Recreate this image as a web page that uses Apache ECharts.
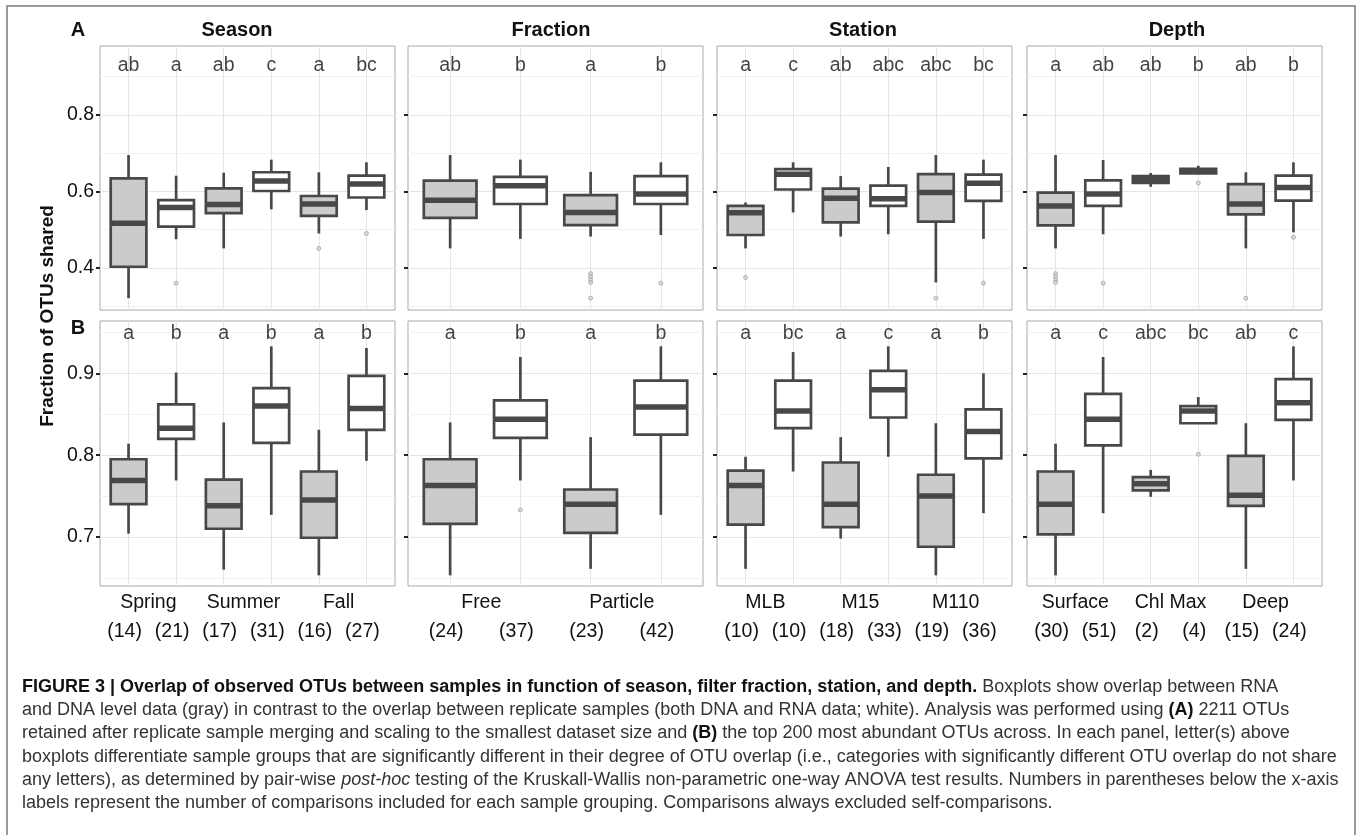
<!DOCTYPE html>
<html>
<head>
<meta charset="utf-8">
<title>Figure 3</title>
<script src="https://cdn.jsdelivr.net/npm/echarts@6/dist/echarts.min.js"></script>
<style>
  html, body { margin: 0; padding: 0; background: #fff; }
  #chart { width: 1357px; height: 835px; }
</style>
</head>
<body>
<div id="chart"></div>
<script>
// facet titles
var panelTitles = ['Season', 'Fraction', 'Station', 'Depth'];

// group names under the x axis (one per pair of boxes)
var seasonGroups = ['Spring', 'Summer', 'Fall'];
var fractionGroups = ['Free', 'Particle'];
var stationGroups = ['MLB', 'M15', 'M110'];
var depthGroups = ['Surface', 'Chl Max', 'Deep'];

// number of comparisons per box
var seasonCounts = [14, 21, 17, 31, 16, 27];
var fractionCounts = [24, 37, 23, 42];
var stationCounts = [10, 10, 18, 33, 19, 36];
var depthCounts = [30, 51, 2, 4, 15, 24];

// boxes alternate: RNA vs DNA (gray), replicates (white)
var boxKinds = ['RNA vs DNA', 'Replicates'];

// significance letters
var seasonLettersA = ['ab', 'a', 'ab', 'c', 'a', 'bc'];
var fractionLettersA = ['ab', 'b', 'a', 'b'];
var stationLettersA = ['a', 'c', 'ab', 'abc', 'abc', 'bc'];
var depthLettersA = ['a', 'ab', 'ab', 'b', 'ab', 'b'];
var seasonLettersB = ['a', 'b', 'a', 'b', 'a', 'b'];
var fractionLettersB = ['a', 'b', 'a', 'b'];
var stationLettersB = ['a', 'bc', 'a', 'c', 'a', 'b'];
var depthLettersB = ['a', 'c', 'abc', 'bc', 'ab', 'c'];

// box stats: [lower whisker, Q1, median, Q3, upper whisker]
var seasonBoxA = [
  [0.321, 0.403, 0.517, 0.634, 0.695],
  [0.475, 0.508, 0.558, 0.577, 0.641],
  [0.451, 0.543, 0.566, 0.608, 0.649],
  [0.553, 0.601, 0.627, 0.650, 0.683],
  [0.490, 0.536, 0.567, 0.588, 0.650],
  [0.551, 0.584, 0.619, 0.641, 0.676]
];
var fractionBoxA = [
  [0.451, 0.531, 0.577, 0.628, 0.695],
  [0.476, 0.567, 0.615, 0.638, 0.683],
  [0.482, 0.512, 0.545, 0.590, 0.651],
  [0.486, 0.567, 0.593, 0.640, 0.676]
];
var stationBoxA = [
  [0.451, 0.486, 0.544, 0.562, 0.571],
  [0.545, 0.605, 0.645, 0.658, 0.676],
  [0.482, 0.519, 0.582, 0.607, 0.640],
  [0.488, 0.562, 0.581, 0.615, 0.664],
  [0.362, 0.521, 0.597, 0.645, 0.695],
  [0.476, 0.575, 0.621, 0.644, 0.683]
];
var depthBoxA = [
  [0.451, 0.511, 0.562, 0.597, 0.695],
  [0.488, 0.562, 0.593, 0.629, 0.682],
  [0.612, 0.622, 0.631, 0.640, 0.648],
  [0.645, 0.647, 0.653, 0.659, 0.667],
  [0.451, 0.540, 0.567, 0.619, 0.650],
  [0.493, 0.576, 0.610, 0.641, 0.676]
];
var seasonBoxB = [
  [0.704, 0.740, 0.769, 0.795, 0.814],
  [0.769, 0.820, 0.833, 0.862, 0.901],
  [0.660, 0.710, 0.738, 0.770, 0.840],
  [0.727, 0.815, 0.860, 0.882, 0.933],
  [0.653, 0.699, 0.745, 0.780, 0.831],
  [0.793, 0.831, 0.857, 0.897, 0.931]
];
var fractionBoxB = [
  [0.653, 0.716, 0.763, 0.795, 0.840],
  [0.769, 0.821, 0.844, 0.867, 0.920],
  [0.661, 0.705, 0.740, 0.758, 0.822],
  [0.727, 0.825, 0.859, 0.891, 0.933]
];
var stationBoxB = [
  [0.661, 0.715, 0.763, 0.781, 0.798],
  [0.780, 0.833, 0.854, 0.891, 0.926],
  [0.698, 0.712, 0.740, 0.791, 0.822],
  [0.798, 0.846, 0.880, 0.903, 0.933],
  [0.653, 0.688, 0.750, 0.776, 0.839],
  [0.729, 0.796, 0.829, 0.856, 0.900]
];
var depthBoxB = [
  [0.653, 0.703, 0.740, 0.780, 0.814],
  [0.729, 0.812, 0.844, 0.875, 0.920],
  [0.749, 0.757, 0.765, 0.773, 0.782],
  [0.839, 0.839, 0.854, 0.860, 0.871],
  [0.661, 0.738, 0.751, 0.799, 0.839],
  [0.769, 0.843, 0.864, 0.893, 0.933]
];

// outliers: [box number, value]
var seasonOutA = [[2, 0.360], [5, 0.451], [6, 0.490]];
var fractionOutA = [[3, 0.385], [3, 0.377], [3, 0.369], [3, 0.362], [3, 0.321], [4, 0.360]];
var stationOutA = [[1, 0.375], [5, 0.321], [6, 0.360]];
var depthOutA = [[1, 0.385], [1, 0.377], [1, 0.369], [1, 0.362], [2, 0.360], [4, 0.622], [5, 0.321], [6, 0.480]];
var seasonOutB = [];
var fractionOutB = [[2, 0.733]];
var stationOutB = [];
var depthOutB = [[4, 0.801]];

// y axis breaks
var yTicksA = [0.4, 0.6, 0.8];
var yMinorA = [0.3, 0.5, 0.7, 0.9];
var yTicksB = [0.7, 0.8, 0.9];
var yMinorB = [0.65, 0.75, 0.85, 0.95];

var captionLines = [
  '{b|FIGURE 3 | Overlap of observed OTUs between samples in function of season, filter fraction, station, and depth.} Boxplots show overlap between RNA',
  'and DNA level data (gray) in contrast to the overlap between replicate samples (both DNA and RNA data; white). Analysis was performed using {b|(A)} 2211 OTUs',
  'retained after replicate sample merging and scaling to the smallest dataset size and {b|(B)} the top 200 most abundant OTUs across. In each panel, letter(s) above',
  'boxplots differentiate sample groups that are significantly different in their degree of OTU overlap (i.e., categories with significantly different OTU overlap do not share',
  'any letters), as determined by pair-wise {i|post-hoc} testing of the Kruskall-Wallis non-parametric one-way ANOVA test results. Numbers in parentheses below the x-axis',
  'labels represent the number of comparisons included for each sample grouping. Comparisons always excluded self-comparisons.'
];

var FONT = "'Liberation Sans', Arial, Helvetica, sans-serif";
var INK = '#111111';
var CAPTION_INK = '#333333';
var BOX_LINE = '#484848';
var GRAY_FILL = '#cbcbcb';
var GRID_MAJOR = '#e6e6e6';
var GRID_MINOR = '#f1f1f1';
var TEXT_SIZE = 19.5;

var panelLeft = [100, 408, 717, 1027];
var panelWidth = 295;
var stripX = [237, 551, 863, 1177];

var rows = [
  {
    top: 46, height: 264, min: 0.29, max: 0.98, ticks: yTicksA, minor: yMinorA, letterY: 0.928, showX: false,
    boxes: [seasonBoxA, fractionBoxA, stationBoxA, depthBoxA],
    letters: [seasonLettersA, fractionLettersA, stationLettersA, depthLettersA],
    outliers: [seasonOutA, fractionOutA, stationOutA, depthOutA]
  },
  {
    top: 321, height: 265, min: 0.64, max: 0.964, ticks: yTicksB, minor: yMinorB, letterY: 0.949, showX: true,
    boxes: [seasonBoxB, fractionBoxB, stationBoxB, depthBoxB],
    letters: [seasonLettersB, fractionLettersB, stationLettersB, depthLettersB],
    outliers: [seasonOutB, fractionOutB, stationOutB, depthOutB]
  }
];
var groupsByPanel = [seasonGroups, fractionGroups, stationGroups, depthGroups];
var countsByPanel = [seasonCounts, fractionCounts, stationCounts, depthCounts];

// box drawn in ggplot style: no whisker caps, thick median
function renderBox(params, api) {
  var x = api.value(0);
  var lo = api.coord([x, api.value(1)]);
  var q1 = api.coord([x, api.value(2)]);
  var md = api.coord([x, api.value(3)]);
  var q3 = api.coord([x, api.value(4)]);
  var hi = api.coord([x, api.value(5)]);
  var w = api.size([0.75, 0])[0];
  var fill = api.value(6) === 1 ? '#ffffff' : GRAY_FILL;
  var line = { stroke: BOX_LINE, lineWidth: 2.7 };
  return {
    type: 'group',
    children: [
      { type: 'line', shape: { x1: lo[0], y1: lo[1], x2: q1[0], y2: q1[1] }, style: line },
      { type: 'line', shape: { x1: q3[0], y1: q3[1], x2: hi[0], y2: hi[1] }, style: line },
      { type: 'rect', shape: { x: q3[0] - w / 2, y: q3[1], width: w, height: q1[1] - q3[1] },
        style: { fill: fill, stroke: BOX_LINE, lineWidth: 2.7 } },
      { type: 'line', shape: { x1: md[0] - w / 2, y1: md[1], x2: md[0] + w / 2, y2: md[1] },
        style: { stroke: BOX_LINE, lineWidth: 5.5 } }
    ]
  };
}

var grids = [], xAxes = [], yAxes = [], series = [];

rows.forEach(function (row, r) {
  for (var p = 0; p < 4; p++) {
    var g = grids.length;
    var boxes = row.boxes[p];
    var n = boxes.length;
    var positions = boxes.map(function (b, i) { return i + 1; });
    var counts = countsByPanel[p];
    var groups = groupsByPanel[p];
    var letters = row.letters[p];

    grids.push({
      left: panelLeft[p], top: row.top, width: panelWidth, height: row.height,
      show: true, backgroundColor: '#fff', borderColor: '#a8a8a8', borderWidth: 1,
      containLabel: false, outerBoundsMode: 'none'
    });

    var xMain = xAxes.length;
    xAxes.push({
      type: 'value', gridIndex: g, position: 'bottom', min: 0.4, max: n + 0.6,
      axisLine: { show: false },
      axisTick: { show: false, customValues: positions },
      splitLine: { show: true, lineStyle: { color: GRID_MAJOR, width: 1 } },
      axisLabel: row.showX ? {
        show: true, customValues: positions, margin: 36, padding: [0, 8, 0, 0],
        fontSize: TEXT_SIZE, fontFamily: FONT, color: INK,
        formatter: (function (c) { return function (v) { return '(' + c[Math.round(v) - 1] + ')'; }; })(counts)
      } : { show: false }
    });
    if (row.showX) {
      xAxes.push({
        type: 'value', gridIndex: g, position: 'bottom', min: 0.4, max: n + 0.6,
        axisLine: { show: false }, axisTick: { show: false }, splitLine: { show: false },
        axisLabel: {
          show: true, customValues: groups.map(function (gr, i) { return 2 * i + 1.5; }),
          margin: 7, padding: [0, 8, 0, 0], fontSize: TEXT_SIZE, fontFamily: FONT, color: INK,
          formatter: (function (gs) { return function (v) { return gs[Math.round((v - 1.5) / 2)]; }; })(groups)
        }
      });
    }

    var yMain = yAxes.length;
    yAxes.push({
      type: 'value', gridIndex: g, position: 'left', min: row.min, max: row.max,
      axisLine: { show: false },
      axisTick: { show: true, length: 4, customValues: row.ticks, lineStyle: { color: '#222', width: 2 } },
      axisLabel: {
        show: p === 0, customValues: row.ticks, margin: 6,
        fontSize: TEXT_SIZE, fontFamily: FONT, color: INK,
        formatter: function (v) { return v.toFixed(1); }
      },
      splitLine: { show: true, lineStyle: { color: GRID_MAJOR, width: 1 } }
    });
    yAxes.push({
      type: 'value', gridIndex: g, position: 'right', min: row.min, max: row.max,
      axisLine: { show: false },
      axisTick: { show: false, customValues: row.minor },
      axisLabel: { show: false },
      splitLine: { show: true, lineStyle: { color: GRID_MINOR, width: 1 } }
    });

    series.push({
      type: 'custom', xAxisIndex: xMain, yAxisIndex: yMain, silent: true, z: 3,
      renderItem: renderBox,
      encode: { x: 0, y: [1, 2, 3, 4, 5] },
      data: boxes.map(function (b, i) {
        return [i + 1, b[0], b[1], b[2], b[3], b[4], boxKinds[i % 2] === 'Replicates' ? 1 : 0];
      })
    });
    series.push({
      type: 'scatter', xAxisIndex: xMain, yAxisIndex: yMain, silent: true, z: 4,
      symbol: 'circle', symbolSize: 4,
      itemStyle: { color: '#d6d6d6', borderColor: '#8f8f8f', borderWidth: 0.8 },
      data: row.outliers[p].map(function (o) { return [o[0], o[1]]; })
    });
    series.push({
      type: 'scatter', xAxisIndex: xMain, yAxisIndex: yMain, silent: true, z: 5,
      symbolSize: 1, itemStyle: { color: 'transparent' },
      label: {
        show: true, position: 'inside', fontSize: TEXT_SIZE, fontFamily: FONT, color: INK,
        formatter: (function (ls) { return function (params) { return ls[params.dataIndex]; }; })(letters)
      },
      data: letters.map(function (l, i) { return [i + 1, row.letterY]; })
    });
  }
});

var graphics = [
  { type: 'rect', silent: true, z: -1, shape: { x: 7, y: 6, width: 1348, height: 860 },
    style: { fill: 'none', stroke: '#7a7a7a', lineWidth: 1.5 } },
  { type: 'text', x: 78, y: 30, silent: true,
    style: { text: 'A', font: 'bold 20px ' + FONT, fill: INK, align: 'center', verticalAlign: 'middle' } },
  { type: 'text', x: 78, y: 328, silent: true,
    style: { text: 'B', font: 'bold 20px ' + FONT, fill: INK, align: 'center', verticalAlign: 'middle' } },
  { type: 'text', x: 48, y: 316, rotation: Math.PI / 2, silent: true,
    style: { text: 'Fraction of OTUs shared', font: 'bold 19px ' + FONT, fill: INK, align: 'center', verticalAlign: 'middle' } }
];
panelTitles.forEach(function (t, p) {
  graphics.push({ type: 'text', x: stripX[p], y: 30, silent: true,
    style: { text: t, font: 'bold 20px ' + FONT, fill: INK, align: 'center', verticalAlign: 'middle' } });
});

var chart = echarts.init(document.getElementById('chart'));
chart.setOption({
  animation: false,
  backgroundColor: '#fff',
  title: {
    text: captionLines.join('\n'),
    left: 22, top: 675, padding: 0,
    textStyle: {
      fontSize: 18, fontFamily: FONT, fontWeight: 'normal', color: CAPTION_INK, lineHeight: 23.3,
      rich: {
        b: { fontSize: 18, fontFamily: FONT, fontWeight: 'bold', color: '#111', lineHeight: 23.3 },
        i: { fontSize: 18, fontFamily: FONT, fontStyle: 'italic', color: CAPTION_INK, lineHeight: 23.3 }
      }
    }
  },
  grid: grids,
  xAxis: xAxes,
  yAxis: yAxes,
  series: series,
  graphic: graphics
});
</script>
</body>
</html>
